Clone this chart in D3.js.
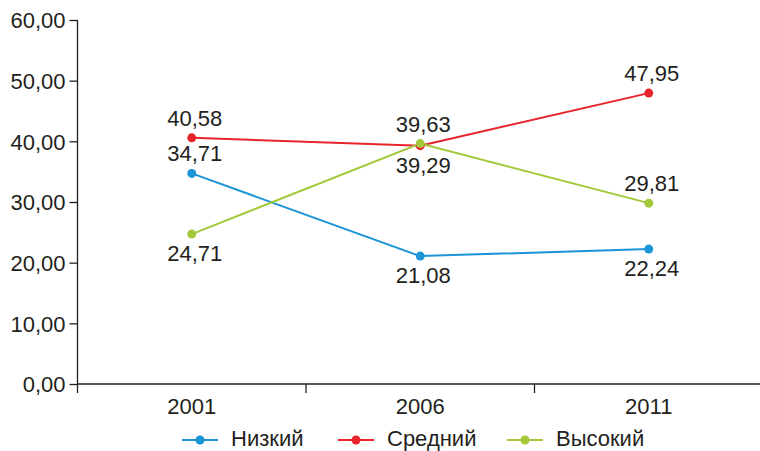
<!DOCTYPE html>
<html><head><meta charset="utf-8">
<script src="https://cdn.jsdelivr.net/npm/d3@7"></script>
<style>body{margin:0;background:#fff}svg{display:block}text{font-family:"Liberation Sans",Arial,sans-serif;fill:#231f20}</style>
</head><body><svg id="c" width="760" height="451"></svg>
<script>
const years = ["2001","2006","2011"];
const seriesNames = ["Низкий","Средний","Высокий"];
const seriesColors = ["#1b95d6","#e8232b","#a3c83a"];
const lowVals = [34.71, 21.08, 22.24];
const midVals = [40.58, 39.29, 47.95];
const highVals = [24.71, 39.63, 29.81];
// label placement: 1 = above, -1 = below
const lowPos = [1, -1, -1];
const midPos = [1, -1, 1];
const highPos = [-1, 1, 1];
const yTicks = [0,10,20,30,40,50,60];

const series = [
  {name: seriesNames[0], color: seriesColors[0], values: lowVals, pos: lowPos},
  {name: seriesNames[1], color: seriesColors[1], values: midVals, pos: midPos},
  {name: seriesNames[2], color: seriesColors[2], values: highVals, pos: highPos}
];
const fmt = v => d3.format(".2f")(v).replace(".", ",");
const FS = "22px";

const svg = d3.select("#c");
const x = d3.scaleBand().domain(years).range([77.5, 763]);
const y = d3.scaleLinear().domain([0, 60]).range([384, 20]);

// y axis
const ya = svg.append("g").attr("transform","translate(77.5,0)")
  .call(d3.axisLeft(y).tickValues(yTicks).tickFormat(fmt).tickSize(8).tickPadding(4));
ya.select(".domain").attr("stroke","#231f20").attr("stroke-width",1.3).attr("d","M0,20V384");
ya.selectAll(".tick line").attr("stroke","#231f20").attr("stroke-width",1.3);
ya.selectAll(".tick text").style("font-size",FS).attr("fill","#231f20").attr("dy","0.36em");

// x axis
const xa = svg.append("g").attr("transform","translate(0,384)");
xa.append("line").attr("x1",77.5).attr("x2",763).attr("stroke","#231f20").attr("stroke-width",1.3);
const bounds = [x.range()[0]].concat(years.map(d => x(d) + x.bandwidth()));
xa.selectAll(".bt").data(bounds).enter().append("line")
  .attr("x1",d=>d).attr("x2",d=>d).attr("y1",0).attr("y2",9)
  .attr("stroke","#231f20").attr("stroke-width",1.3);
xa.selectAll(".xl").data(years).enter().append("text")
  .attr("x",d=>x(d)+x.bandwidth()/2).attr("y",30).attr("text-anchor","middle")
  .style("font-size",FS).text(d=>d);

const cx = d => x(d) + x.bandwidth()/2;
const line = d3.line().x((v,i)=>cx(years[i])).y(v=>y(v));

series.forEach(s => {
  svg.append("path").attr("d", line(s.values)).attr("fill","none")
    .attr("stroke", s.color).attr("stroke-width", 2);
});
series.forEach(s => {
  svg.selectAll(null).data(s.values).enter().append("circle")
    .attr("cx",(v,i)=>cx(years[i])).attr("cy",v=>y(v)).attr("r",4.5).attr("fill",s.color);
  svg.selectAll(null).data(s.values).enter().append("text")
    .attr("x",(v,i)=>cx(years[i])+3).attr("y",(v,i)=> s.pos[i]>0 ? y(v)-12 : y(v)+27)
    .attr("text-anchor","middle").style("font-size",FS).text(v=>fmt(v));
});

// legend
const legX = [182, 338, 507];
const lg = svg.append("g").attr("transform","translate(0,440)");
series.forEach((s,i) => {
  const g = lg.append("g").attr("transform",`translate(${legX[i]},0)`);
  g.append("line").attr("x1",0).attr("x2",36).attr("stroke",s.color).attr("stroke-width",2);
  g.append("circle").attr("cx",18).attr("cy",0).attr("r",4.5).attr("fill",s.color);
  g.append("text").attr("x",49).attr("y",6).style("font-size",FS).text(s.name);
});
</script></body></html>
